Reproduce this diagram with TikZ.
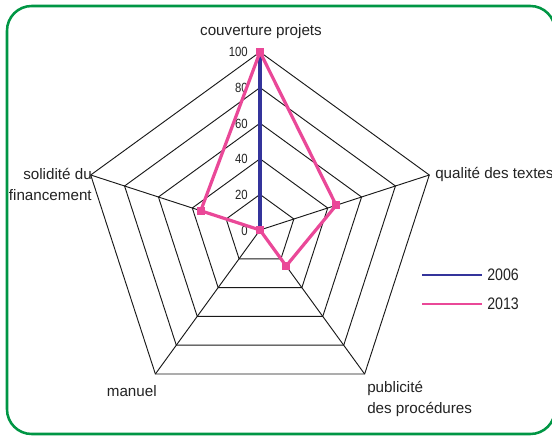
\documentclass[tikz,border=0pt]{standalone}
\usepackage{fontspec}
\setmainfont{Liberation Sans}
\newfontfamily\narrowfont[FakeStretch=0.85]{Liberation Sans}
\definecolor{frameG}{RGB}{0,150,68}
\definecolor{serA}{RGB}{52,52,155}
\definecolor{serB}{RGB}{234,72,152}
\definecolor{txt}{RGB}{35,35,35}
\tikzset{
  gridline/.style={draw=black!90, line width=0.7pt},
  s06/.style={draw=serA, line width=2.6pt},
  s13/.style={draw=serB, line width=2.4pt, line join=round},
  mk/.style={rectangle, fill=serB, minimum size=6pt, inner sep=0pt},
  axlabel/.style={text=txt, inner sep=0pt, font=\fontsize{11.4}{15.8}\selectfont},
  numlabel/.style={text=txt, inner sep=0pt, anchor=east, font=\narrowfont\fontsize{10}{11}\selectfont},
  leglabel/.style={text=txt, inner sep=0pt, anchor=west, font=\narrowfont\fontsize{12.5}{13}\selectfont},
}
\begin{document}
\begin{tikzpicture}[x=0.75pt,y=0.75pt]
\useasboundingbox (0,0) rectangle (552,-436);
\clip (0,0) rectangle (552,-436);
\fill[white] (0,0) rectangle (552,-436);
% frame
\draw[frameG, line width=1.9pt, rounded corners=18.5pt] (7,-6) rectangle (555,-434);
% radar
\coordinate (C) at (260,-230);
\begin{scope}[shift={(260,-230)}]
  \foreach \k/\a in {1/90,2/18,3/-54,4/-126,5/162} {
    \coordinate (v\k) at (\a:178);
  }
  \foreach \r in {35.6,71.2,106.8,142.4,178} {
    \draw[gridline] (90:\r) -- (18:\r) -- (-54:\r) -- (-126:\r) -- (162:\r) -- cycle;
  }
  \coordinate (p1) at (90:178);
  \coordinate (p2) at (18:80.1);
  \coordinate (p3) at (-54:44.5);
  \coordinate (p5) at (162:62.3);
\end{scope}
\foreach \k in {1,...,5} { \draw[gridline] (C) -- (v\k); }
% axis numbers
\node[numlabel] (n0) at (248,-231) {0};
\node[numlabel] (n20) at (248,-195) {20};
\node[numlabel] (n40) at (248,-159) {40};
\node[numlabel] (n60) at (248,-124) {60};
\node[numlabel] (n80) at (248,-88) {80};
\node[numlabel] (n100) at (248,-52) {100};
% series
\draw[s06] (p1) -- (C);
\draw[s13] (p1) -- (p2) -- (p3) -- (C) -- (p5) -- cycle;
\foreach \p in {p1,p2,p3,C,p5} { \node[mk] at (\p) {}; }
% axis labels
\node[axlabel] (lab1) at (261,-32) {couverture projets};
\node[axlabel, anchor=west] (lab2) at (435,-174) {qualité des textes};
\node[axlabel, anchor=north west, align=left] (lab3) at (367,-381) {publicité\\des procédures};
\node[axlabel, anchor=east] (lab4) at (157,-391) {manuel};
\node[axlabel, anchor=north east, align=right] (lab5) at (92,-168) {solidité du\\financement};
% legend
\coordinate (la) at (422,-275);
\coordinate (lb) at (482,-275);
\coordinate (lc) at (422,-304);
\coordinate (ld) at (482,-304);
\draw[draw=serA, line width=1.7pt] (la) -- (lb);
\draw[draw=serB, line width=1.7pt] (lc) -- (ld);
\node[leglabel] (t06) at (487,-275) {2006};
\node[leglabel] (t13) at (487,-304) {2013};
\end{tikzpicture}
\end{document}
